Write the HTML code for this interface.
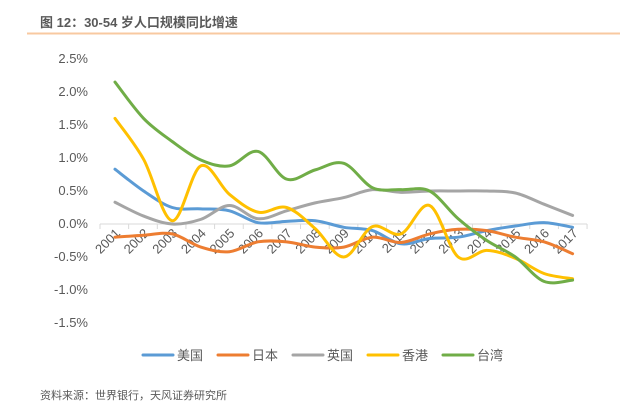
<!DOCTYPE html>
<html><head><meta charset="utf-8"><style>
body{margin:0;background:#fff;width:637px;height:404px;overflow:hidden;font-family:"Liberation Sans","Noto Sans CJK SC",sans-serif}
</style></head><body>
<svg width="637" height="404">
<text x="40" y="27" font-size="13" font-weight="bold" fill="#595959" font-family="Liberation Sans, Noto Sans CJK SC, sans-serif">图 12：30-54 岁人口规模同比增速</text>
<line x1="27" y1="33.5" x2="620" y2="33.5" stroke="#f8c9a0" stroke-width="2"/>
<g id="yax"></g>
<g id="xax"></g>
<g id="series"></g>
<g id="legend"></g>
<text x="40" y="399" font-size="11" fill="#595959" font-family="Liberation Sans, Noto Sans CJK SC, sans-serif">资料来源：世界银行，天风证券研究所</text>
</svg>
<script>
const years=["2001","2002","2003","2004","2005","2006","2007","2008","2009","2010","2011","2012","2013","2014","2015","2016","2017"];
const yTicks=[2.5,2.0,1.5,1.0,0.5,0.0,-0.5,-1.0,-1.5];
const seriesNames=["美国","日本","英国","香港","台湾"];
const seriesColors=["#5b9bd5","#ed7d31","#a5a5a5","#ffc000","#70ad47"];
const usa=[0.83,0.5,0.25,0.23,0.2,0.02,0.04,0.05,-0.05,-0.1,-0.3,-0.22,-0.2,-0.1,-0.03,0.02,-0.05];
const japan=[-0.2,-0.17,-0.15,-0.35,-0.42,-0.27,-0.27,-0.35,-0.35,-0.2,-0.28,-0.15,-0.08,-0.1,-0.2,-0.27,-0.45];
const uk=[0.33,0.12,0.0,0.07,0.28,0.08,0.2,0.32,0.4,0.52,0.48,0.5,0.5,0.5,0.47,0.3,0.13];
const hk=[1.6,0.98,0.05,0.88,0.45,0.18,0.25,-0.07,-0.5,-0.04,-0.15,0.28,-0.5,-0.4,-0.52,-0.75,-0.83];
const tw=[2.15,1.6,1.25,0.97,0.88,1.1,0.68,0.82,0.92,0.55,0.52,0.5,0.08,-0.25,-0.5,-0.87,-0.85];
const allSeries=[usa,japan,uk,hk,tw];
const NS="http://www.w3.org/2000/svg";
function yS(v){return 224-v*66;}
function xS(i){return 115+i*28.6;}
function mk(t,a,p){const e=document.createElementNS(NS,t);for(const k in a)e.setAttribute(k,a[k]);p.appendChild(e);return e;}
const yax=document.getElementById('yax');
yTicks.forEach(v=>{
 const t=mk('text',{x:88,y:yS(v)+4,'text-anchor':'end','font-size':13,fill:'#595959'},yax);
 t.textContent=v.toFixed(1)+'%';
 
 
});
const xax=document.getElementById('xax');
const axl=mk('line',{x1:100,y1:yS(0),x2:587,y2:yS(0),stroke:'#d9d9d9','stroke-width':1},xax);


for(let i=0;i<=years.length;i++){
 const tk=mk('line',{x1:100+i*28.65,y1:yS(0),x2:100+i*28.65,y2:yS(0)+5,stroke:'#d9d9d9'},xax);
 
 
}
years.forEach((y,i)=>{
 const x=xS(i)+6,yy=yS(0)+10;
 const t=mk('text',{x:x,y:yy,'text-anchor':'end','font-size':13,fill:'#595959',transform:`rotate(-45 ${x} ${yy})`},xax);
 t.textContent=y;
 
 
});
function smooth(pts){
 let d=`M${pts[0][0]},${pts[0][1]}`;
 for(let i=0;i<pts.length-1;i++){
  const p0=pts[i-1]||pts[i],p1=pts[i],p2=pts[i+1],p3=pts[i+2]||p2;
  const c1=[p1[0]+(p2[0]-p0[0])/6,p1[1]+(p2[1]-p0[1])/6];
  const c2=[p2[0]-(p3[0]-p1[0])/6,p2[1]-(p3[1]-p1[1])/6];
  d+=` C${c1[0]},${c1[1]} ${c2[0]},${c2[1]} ${p2[0]},${p2[1]}`;
 }
 return d;
}
const sg=document.getElementById('series');
allSeries.forEach((s,k)=>{
 const pts=s.map((v,i)=>[xS(i),yS(v)]);
 const p=mk('path',{d:smooth(pts),fill:'none',stroke:seriesColors[k],'stroke-width':3,'stroke-linecap':'round'},sg);
 
 
});
const lg=document.getElementById('legend');
const lx=[143,218,293,368,443];
seriesNames.forEach((n,k)=>{
 const g=mk('g',{},lg);
 
 
 mk('line',{x1:lx[k],y1:355,x2:lx[k]+30,y2:355,stroke:seriesColors[k],'stroke-width':3,'stroke-linecap':'round'},g);
 const t=mk('text',{x:lx[k]+34,y:360,'font-size':13,fill:'#595959'},g);
 t.textContent=n;
});
</script>
</body></html>
